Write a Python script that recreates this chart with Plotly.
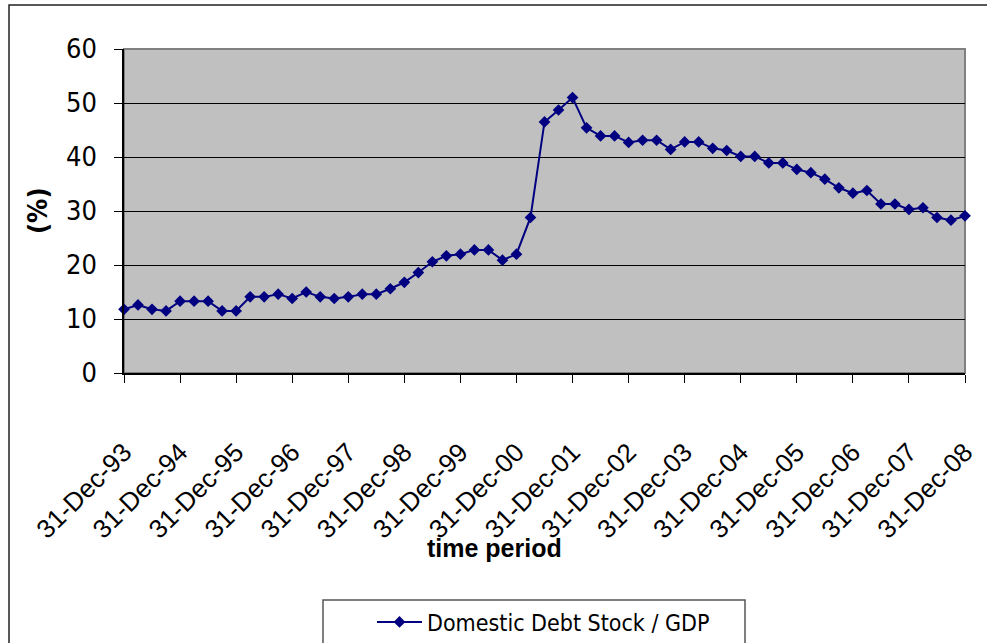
import plotly.graph_objects as go

# Quarter-end dates from Dec 1993 to Dec 2008
months = ["31-Mar", "30-Jun", "30-Sep", "31-Dec"]
quarters = ["31-Dec-93"]
for yr in range(94, 109):
    for m in months:
        quarters.append(f"{m}-{yr % 100:02d}")

# Domestic debt stock as a share of GDP (%)
debt_gdp = [
    11.8, 12.6, 11.8, 11.5, 13.3, 13.3, 13.3, 11.5, 11.5, 14.1,
    14.1, 14.6, 13.8, 15.0, 14.1, 13.8, 14.1, 14.6, 14.6, 15.6,
    16.8, 18.6, 20.6, 21.7, 22.0, 22.8, 22.8, 20.9, 22.0, 28.8,
    46.5, 48.7, 51.0, 45.4, 43.9, 43.9, 42.7, 43.1, 43.1, 41.4,
    42.8, 42.8, 41.6, 41.2, 40.1, 40.1, 38.9, 38.9, 37.7, 37.1,
    35.9, 34.3, 33.3, 33.8, 31.3, 31.3, 30.3, 30.6, 28.8, 28.3,
    29.1,
]

year_ticks = [q for q in quarters if q.startswith("31-Dec")]
y_ticks = [0, 10, 20, 30, 40, 50, 60]

W, H = 987, 643
L, R, T, B = 124, 22, 49, 270
pw, ph = W - L - R, H - T - B


def px_x(x):
    return (x - L) / pw


def px_y(y):
    return (H - B - y) / ph


narrow = "DejaVu Sans Condensed, Liberation Sans, Arial"
regular = "Liberation Sans, Arial"

fig = go.Figure()
fig.add_trace(go.Scatter(
    x=quarters, y=debt_gdp, mode="lines+markers",
    name="Domestic Debt Stock / GDP",
    line=dict(color="#000080", width=2),
    marker=dict(symbol="diamond", size=9, color="#000080"),
    cliponaxis=False,
))

fig.update_layout(
    width=W, height=H,
    margin=dict(l=L, r=R, t=T, b=B, autoexpand=False),
    paper_bgcolor="white",
    plot_bgcolor="rgba(0,0,0,0)",
    showlegend=True,
    legend=dict(
        x=px_x(372), y=px_y(622), xanchor="left", yanchor="middle",
        bgcolor="rgba(0,0,0,0)", borderwidth=0, itemwidth=45,
        font=dict(family=narrow, size=23, color="black"),
    ),
    xaxis=dict(
        type="category", range=[0, len(quarters) - 1], automargin=False,
        tickmode="array", tickvals=year_ticks, ticktext=year_ticks,
        tickangle=-45, ticks="outside", ticklen=8, tickcolor="black",
        tickfont=dict(family=regular, size=26, color="black"),
        ticklabelstandoff=44,
        showline=True, linecolor="black", linewidth=1.5,
        showgrid=False, zeroline=False,
    ),
    yaxis=dict(
        range=[0, 60], tickvals=y_ticks, automargin=False,
        ticks="outside", ticklen=8, tickcolor="black",
        tickfont=dict(family=narrow, size=27, color="black"),
        ticklabelstandoff=12,
        showline=True, linecolor="black", linewidth=1.5,
        showgrid=True, gridcolor="black", gridwidth=1,
        zeroline=False,
    ),
    shapes=[
        # plot area fill and grey frame
        dict(type="rect", xref="paper", yref="paper", x0=0, y0=0, x1=1, y1=1,
             fillcolor="#C0C0C0", line=dict(color="#808080", width=2), layer="below"),
        # outer chart border
        dict(type="rect", xref="paper", yref="paper",
             x0=px_x(9), y0=px_y(670), x1=px_x(1010), y1=px_y(5),
             line=dict(color="#222222", width=1.5), layer="below"),
        # legend frame
        dict(type="rect", xref="paper", yref="paper",
             x0=px_x(323), y0=px_y(670), x1=px_x(745), y1=px_y(600),
             fillcolor="white", line=dict(color="#555555", width=1.5), layer="below"),
    ],
    annotations=[
        dict(text="(%)", xref="paper", yref="paper", x=px_x(37), y=px_y(211),
             xanchor="center", yanchor="middle", textangle=-90, showarrow=False,
             font=dict(family=narrow, size=27, color="black", weight="bold")),
        dict(text="time period", xref="paper", yref="paper", x=px_x(494), y=px_y(548),
             xanchor="center", yanchor="middle", showarrow=False,
             font=dict(family=regular, size=25, color="black", weight="bold")),
    ],
)

fig.write_html("out.html")
